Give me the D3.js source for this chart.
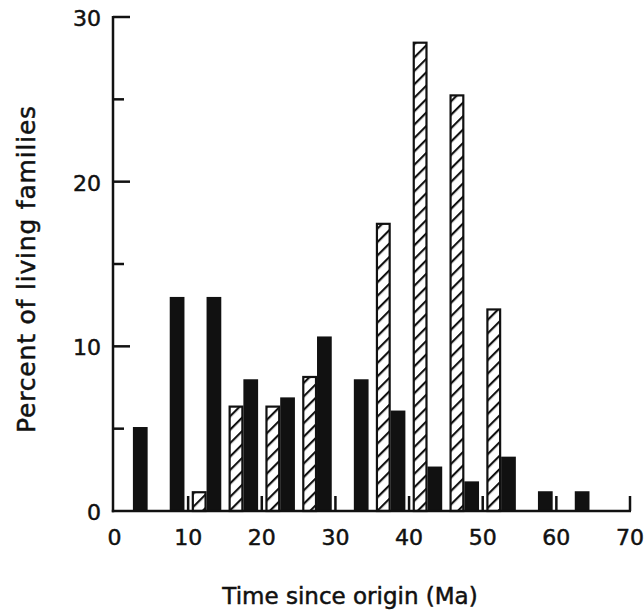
<!DOCTYPE html>
<html>
<head>
<meta charset="utf-8">
<script src="https://cdn.jsdelivr.net/npm/d3@7"></script>
<style>
  html, body { margin: 0; padding: 0; background: #fff; }
  svg { display: block; }
  text { font-family: "DejaVu Sans", sans-serif; fill: #111; stroke: #111; stroke-width: 0.5px; }
</style>
</head>
<body>
<svg id="chart" width="644" height="614"></svg>
<script>
// ---- data ----
const binStarts = [0, 5, 10, 15, 20, 25, 30, 35, 40, 45, 50, 55, 60, 65];
const hatchedValues = [0, 0, 1.2, 6.4, 6.4, 8.2, 0, 17.5, 28.5, 25.3, 12.3, 0, 0, 0];
const blackValues = [5.1, 13.0, 13.0, 8.0, 6.9, 10.6, 8.0, 6.1, 2.7, 1.8, 3.3, 1.2, 1.2, 0];
const xTickValues = [0, 10, 20, 30, 40, 50, 60, 70];
const yTickValues = [0, 10, 20, 30];
const yMinorTicks = [5, 15, 25];
const xLabel = "Time since origin (Ma)";
const yLabel = "Percent of living families";

// ---- layout ----
const svg = d3.select("#chart");
const x = d3.scaleLinear().domain([0, 70]).range([114.5, 630]);
const y = d3.scaleLinear().domain([0, 30]).range([511, 17]);
const axisX = 113;
const barW = x(2) - x(0);

const defs = svg.append("defs");
const pat = defs.append("pattern")
  .attr("id", "hatch")
  .attr("patternUnits", "userSpaceOnUse")
  .attr("width", 9.5).attr("height", 10)
  .attr("patternTransform", "rotate(45)");
pat.append("rect").attr("width", 9.5).attr("height", 10).attr("fill", "#fff");
pat.append("line").attr("x1", 1).attr("y1", 0).attr("x2", 1).attr("y2", 10)
  .attr("stroke", "#111").attr("stroke-width", 2.3);

const data = binStarts.map((s, i) => ({ start: s, mid: s + 2.5, h: hatchedValues[i], b: blackValues[i] }));

// hatched bars
svg.append("g").selectAll("rect")
  .data(data.filter(d => d.h > 0))
  .join("rect")
  .attr("x", d => x(d.mid - 2) + 1)
  .attr("y", d => y(d.h) + 1)
  .attr("width", barW - 2)
  .attr("height", d => y(0) - y(d.h) - 1)
  .attr("fill", "url(#hatch)")
  .attr("stroke", "#111")
  .attr("stroke-width", 2.2);

// black bars
svg.append("g").selectAll("rect")
  .data(data.filter(d => d.b > 0))
  .join("rect")
  .attr("x", d => x(d.mid))
  .attr("y", d => y(d.b))
  .attr("width", barW)
  .attr("height", d => y(0) - y(d.b))
  .attr("fill", "#111");

// axes lines
const axes = svg.append("g").attr("stroke", "#111").attr("stroke-width", 2.5).attr("fill", "none");
axes.append("line").attr("x1", axisX).attr("x2", axisX).attr("y1", y(30) - 1).attr("y2", y(0) + 1.2);
axes.append("line").attr("x1", axisX - 1.2).attr("x2", x(70) + 1).attr("y1", y(0)).attr("y2", y(0));

// y ticks (inward)
axes.selectAll(".yt").data(yTickValues.filter(v => v > 0)).join("line")
  .attr("x1", axisX).attr("x2", axisX + 17)
  .attr("y1", d => y(d)).attr("y2", d => y(d));
axes.selectAll(".ym").data(yMinorTicks).join("line")
  .attr("x1", axisX).attr("x2", axisX + 11)
  .attr("y1", d => y(d)).attr("y2", d => y(d));
// x ticks (inward)
axes.selectAll(".xt").data(xTickValues.filter(v => v > 0)).join("line")
  .attr("x1", d => x(d)).attr("x2", d => x(d))
  .attr("y1", y(0)).attr("y2", y(0) - 15);

// tick labels
svg.append("g").selectAll("text").data(yTickValues).join("text")
  .attr("x", 101).attr("y", d => y(d) + 9)
  .attr("text-anchor", "end")
  .attr("font-size", 22)
  .text(d => d);
svg.append("g").selectAll("text").data(xTickValues).join("text")
  .attr("x", d => x(d)).attr("y", 545)
  .attr("text-anchor", "middle")
  .attr("font-size", 22)
  .text(d => d);

// axis titles
svg.append("text")
  .attr("x", 350).attr("y", 604)
  .attr("text-anchor", "middle")
  .attr("font-size", 23)
  .text(xLabel);
svg.append("text")
  .attr("transform", "translate(35,269) rotate(-90)")
  .attr("text-anchor", "middle")
  .attr("font-size", 25)
  .attr("letter-spacing", 0.8)
  .text(yLabel);
</script>
</body>
</html>
